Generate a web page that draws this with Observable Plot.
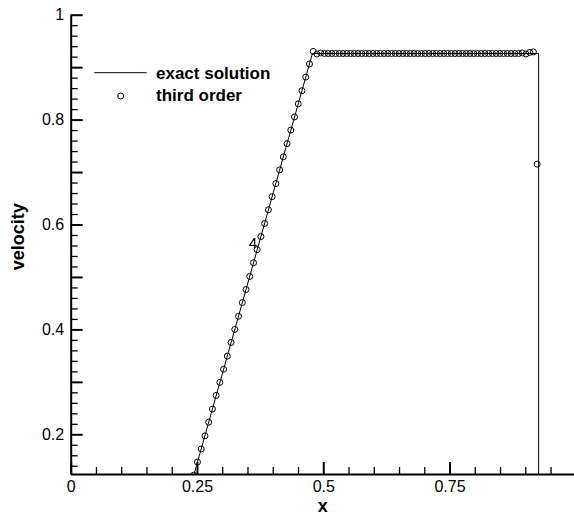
<!DOCTYPE html>
<html>
<head>
<meta charset="utf-8">
<script src="https://cdn.jsdelivr.net/npm/d3@7"></script>
<script src="https://cdn.jsdelivr.net/npm/@observablehq/plot@0.6"></script>
<style>
  html, body { margin: 0; padding: 0; background: #fff; }
  #chart svg { display: block; }
</style>
</head>
<body>
<div id="chart"></div>
<script>
// Exact solution: rarefaction ramp, constant state, then the shock
const exactX = [0, 0.2068, 0.4775, 0.9254, 0.9254, 1];
const exactU = [0, 0, 0.927, 0.927, 0, 0];

// Third-order scheme, cell values
const thirdX = [
  0.2426, 0.2500, 0.2574, 0.2648, 0.2722, 0.2796, 0.2870, 0.2943, 0.3017, 0.3091,
  0.3165, 0.3239, 0.3313, 0.3387, 0.3461, 0.3535, 0.3609, 0.3682, 0.3756, 0.3830,
  0.3904, 0.3978, 0.4052, 0.4126, 0.4200, 0.4274, 0.4348, 0.4421, 0.4495, 0.4569,
  0.4643, 0.4717, 0.4791, 0.4865, 0.4939, 0.5013, 0.5087, 0.5160, 0.5234, 0.5308,
  0.5382, 0.5456, 0.5530, 0.5604, 0.5678, 0.5752, 0.5826, 0.5899, 0.5973, 0.6047,
  0.6121, 0.6195, 0.6269, 0.6343, 0.6417, 0.6491, 0.6565, 0.6638, 0.6712, 0.6786,
  0.6860, 0.6934, 0.7008, 0.7082, 0.7156, 0.7230, 0.7304, 0.7377, 0.7451, 0.7525,
  0.7599, 0.7673, 0.7747, 0.7821, 0.7895, 0.7969, 0.8043, 0.8116, 0.8190, 0.8264,
  0.8338, 0.8412, 0.8486, 0.8560, 0.8634, 0.8708, 0.8782, 0.8855, 0.8929, 0.9003,
  0.9077, 0.9151, 0.9225
];
const thirdU = [
  0.123, 0.148, 0.173, 0.198, 0.224, 0.249, 0.275, 0.300, 0.325, 0.350,
  0.376, 0.401, 0.426, 0.452, 0.477, 0.502, 0.528, 0.553, 0.578, 0.603,
  0.629, 0.654, 0.679, 0.705, 0.730, 0.755, 0.781, 0.806, 0.831, 0.856,
  0.882, 0.907, 0.931, 0.926, 0.928, 0.927, 0.927, 0.927, 0.927, 0.927,
  0.927, 0.927, 0.927, 0.927, 0.927, 0.927, 0.927, 0.927, 0.927, 0.927,
  0.927, 0.927, 0.927, 0.927, 0.927, 0.927, 0.927, 0.927, 0.927, 0.927,
  0.927, 0.927, 0.927, 0.927, 0.927, 0.927, 0.927, 0.927, 0.927, 0.927,
  0.927, 0.927, 0.927, 0.927, 0.927, 0.927, 0.927, 0.927, 0.927, 0.927,
  0.927, 0.927, 0.927, 0.927, 0.927, 0.927, 0.927, 0.927, 0.928, 0.926,
  0.929, 0.930, 0.716
];

// Axis ticks and their labels
const xMajorTicks = [0, 0.25, 0.5, 0.75];
const xMinorTicks = [0.05, 0.1, 0.15, 0.2, 0.3, 0.35, 0.4, 0.45, 0.55, 0.6, 0.65, 0.7, 0.8, 0.85, 0.9, 0.95];
const xTickLabels = ["0", "0.25", "0.5", "0.75"];
const yMajorTicks = [0.2, 0.3, 0.4, 0.5, 0.6, 0.7, 0.8, 0.9, 1.0];
const yMinorTicks = [0.14, 0.16, 0.18, 0.22, 0.24, 0.26, 0.28, 0.32, 0.34, 0.36, 0.38,
  0.42, 0.44, 0.46, 0.48, 0.52, 0.54, 0.56, 0.58, 0.62, 0.64, 0.66, 0.68,
  0.72, 0.74, 0.76, 0.78, 0.82, 0.84, 0.86, 0.88, 0.92, 0.94, 0.96, 0.98];
const yLabelTicks = [0.2, 0.4, 0.6, 0.8, 1];
const yTickLabels = ["0.2", "0.4", "0.6", "0.8", "1"];

// Stray annotation inside the plot
const noteX = [0.3515];
const noteY = [0.5555];
const noteText = ["4"];

const legendEntries = ["exact solution", "third order"];

const W = 574, H = 517;
const mL = 70.7, mR = 0, mT = 14.7, mB = 43;
const frameW = W - mL - mR, frameH = H - mT - mB;
const font = "'Liberation Sans', Arial, Helvetica, sans-serif";

const plot = Plot.plot({
  width: W,
  height: H,
  marginLeft: mL,
  marginRight: mR,
  marginTop: mT,
  marginBottom: mB,
  style: { fontFamily: font, fontSize: "16px", color: "black", background: "white", overflow: "visible" },
  x: { domain: [0, 0.9964] },
  y: { domain: [0.1243, 1] },
  marks: [
    // exact solution
    Plot.line(exactU, { x: exactX, y: exactU, stroke: "black", strokeWidth: 1, clip: true }),
    // numerical solution
    Plot.dot(thirdU, { x: thirdX, y: thirdU, r: 3, stroke: "black", strokeWidth: 1, fill: "none", clip: true }),
    // inward ticks
    Plot.tickY(yMinorTicks, { stroke: "black", strokeWidth: 1.3, insetRight: frameW - 7 }),
    Plot.tickY(yMajorTicks, { stroke: "black", strokeWidth: 2, insetRight: frameW - 12 }),
    Plot.tickX(xMinorTicks, { stroke: "black", strokeWidth: 1.3, insetTop: frameH - 7 }),
    Plot.tickX(xMajorTicks, { stroke: "black", strokeWidth: 2, insetTop: frameH - 12 }),
    // axis lines
    Plot.ruleX([0], { stroke: "black", strokeWidth: 2 }),
    Plot.ruleY([0.1243], { stroke: "black", strokeWidth: 2 }),
    // tick labels
    Plot.axisY(yLabelTicks, {
      tickSize: 0, tickPadding: 7, fontSize: 16, label: null,
      tickFormat: (d) => yTickLabels[yLabelTicks.indexOf(d)]
    }),
    Plot.axisX(xMajorTicks, {
      tickSize: 0, tickPadding: 6, fontSize: 16, label: null,
      tickFormat: (d) => xTickLabels[xMajorTicks.indexOf(d)]
    }),
    // axis titles
    Plot.text(["velocity"], {
      frameAnchor: "left", textAnchor: "middle", lineAnchor: "middle",
      rotate: -90, dx: -53, dy: -8, fontWeight: "bold", fontSize: 18
    }),
    Plot.text(["x"], {
      frameAnchor: "bottom", textAnchor: "middle", lineAnchor: "middle",
      dy: 32, fontWeight: "bold", fontSize: 18
    }),
    // annotation
    Plot.text(noteText, { x: noteX, y: noteY, textAnchor: "start", lineAnchor: "bottom", fontSize: 15 })
  ]
});

// legend
const svg = d3.select(plot);
const lg = svg.append("g")
  .attr("font-family", font)
  .attr("font-weight", "bold")
  .attr("font-size", 17)
  .attr("text-anchor", "start");
lg.append("line").attr("x1", 94.3).attr("x2", 146.7).attr("y1", 72.7).attr("y2", 72.7)
  .attr("stroke", "black").attr("stroke-width", 1);
lg.append("circle").attr("cx", 120.7).attr("cy", 96).attr("r", 3)
  .attr("fill", "none").attr("stroke", "black");
lg.append("text").attr("x", 156).attr("y", 78.5).text(legendEntries[0]);
lg.append("text").attr("x", 156).attr("y", 101).text(legendEntries[1]);

document.getElementById("chart").appendChild(plot);
</script>
</body>
</html>
